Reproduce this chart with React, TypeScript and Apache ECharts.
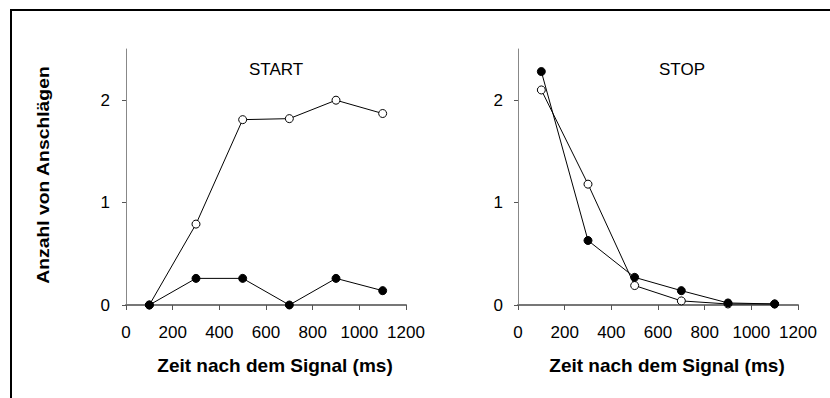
import React, { useEffect, useRef } from "react";
import * as echarts from "echarts";

const xTimes = [100, 300, 500, 700, 900, 1100];
const startOpen = [0, 0.79, 1.81, 1.82, 2.0, 1.87];
const startFilled = [0, 0.26, 0.26, 0, 0.26, 0.14];
const stopOpen = [2.1, 1.18, 0.19, 0.04, 0.01, 0.01];
const stopFilled = [2.28, 0.63, 0.27, 0.14, 0.02, 0.01];
const yTickValues = [0, 1, 2];
const panelTitles = ["START", "STOP"];
const xAxisTitle = "Zeit nach dem Signal (ms)";
const yAxisTitle = "Anzahl von Anschlägen";

const FONT = "'Liberation Sans', Arial, Helvetica, sans-serif";

function pairs(values: number[]) {
  return xTimes.map((x, i) => [x, values[i]]);
}

export default function App() {
  const ref = useRef<HTMLDivElement>(null);
  useEffect(() => {
    if (!ref.current) return;
    const chart = echarts.init(ref.current, undefined, { renderer: "svg" });
    const grids = [
      { left: 126, top: 49, width: 280, height: 256 },
      { left: 518, top: 49, width: 280, height: 256 },
    ];
    const xAxes = grids.map((_, i) => ({
      type: "value",
      gridIndex: i,
      min: 0,
      max: 1200,
      interval: 200,
      splitLine: { show: false },
      axisLine: { show: true, lineStyle: { color: "#777", width: 2 } },
      axisTick: { show: true, length: 5, lineStyle: { color: "#555", width: 1 } },
      axisLabel: {
        fontSize: 17,
        color: "#000",
        fontFamily: FONT,
        margin: 19,
        formatter: (v: number) => String(v),
      },
    }));
    const yAxes = grids.map((_, i) => ({
      type: "value",
      gridIndex: i,
      min: 0,
      max: 2.5,
      interval: 1,
      splitLine: { show: false },
      axisLine: { show: true, onZero: false, lineStyle: { color: "#888", width: 1 } },
      axisTick: { show: true, length: 4, customValues: yTickValues, lineStyle: { color: "#555" } },
      axisLabel: {
        fontSize: 17,
        color: "#000",
        fontFamily: FONT,
        margin: i === 0 ? 16 : 15,
        customValues: yTickValues,
        formatter: (v: number) => (Number.isInteger(v) ? String(v) : ""),
      },
    }));
    const mk = (data: number[], idx: number, filled: boolean) => ({
      type: "line",
      xAxisIndex: idx,
      yAxisIndex: idx,
      data: pairs(data),
      symbol: "circle",
      symbolSize: 8,
      lineStyle: { color: "#000", width: 1 },
      itemStyle: filled
        ? { color: "#000", borderColor: "#000", borderWidth: 1 }
        : { color: "#fff", borderColor: "#000", borderWidth: 1 },
      z: filled ? 3 : 2,
    });
    const centers = grids.map((g) => g.left + g.width / 2);
    chart.setOption({
      animation: false,
      backgroundColor: "#fff",
      grid: grids,
      xAxis: xAxes,
      yAxis: yAxes,
      series: [
        mk(startOpen, 0, false),
        mk(startFilled, 0, true),
        mk(stopOpen, 1, false),
        mk(stopFilled, 1, true),
      ],
      graphic: [
        {
          type: "rect",
          shape: { x: 11, y: 10, width: 900, height: 500 },
          style: { fill: "none", stroke: "#000", lineWidth: 2 },
          silent: true,
          z: 0,
        },
        ...panelTitles.map((t, i) => ({
          type: "text",
          x: centers[i] + (i === 0 ? 10 : 24),
          y: 69,
          style: {
            text: t,
            fontSize: 17,
            fontFamily: FONT,
            fill: "#000",
            align: "center",
            verticalAlign: "middle",
          },
        })),
        ...centers.map((c) => ({
          type: "text",
          x: c + 9,
          y: 365,
          style: {
            text: xAxisTitle,
            fontSize: 19,
            fontWeight: "bold",
            fontFamily: FONT,
            fill: "#000",
            align: "center",
            verticalAlign: "middle",
          },
        })),
        {
          type: "text",
          x: 44,
          y: 175,
          rotation: Math.PI / 2,
          scaleX: 1.21,
          style: {
            text: yAxisTitle,
            fontSize: 16,
            fontWeight: "bold",
            fontFamily: FONT,
            fill: "#000",
            align: "center",
            verticalAlign: "middle",
          },
        },
      ],
    });
    return () => chart.dispose();
  }, []);
  return <div ref={ref} style={{ width: 830, height: 398, position: "absolute", left: 0, top: 0 }} />;
}
